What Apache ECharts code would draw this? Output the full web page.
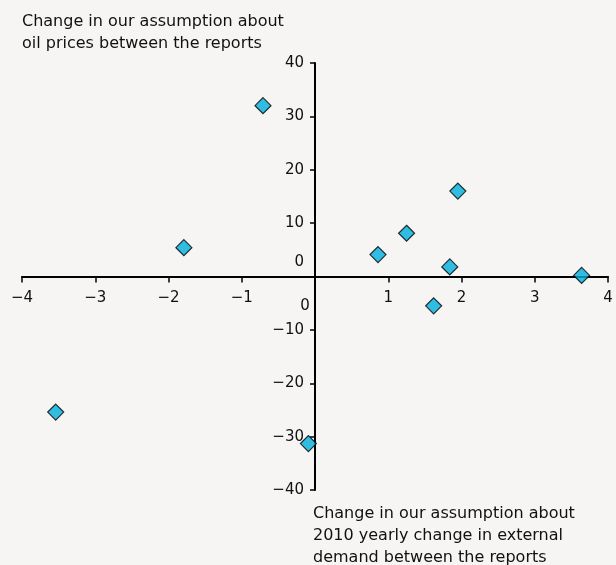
<!DOCTYPE html>
<html>
<head>
<meta charset="utf-8">
<script src="https://cdn.jsdelivr.net/npm/echarts@6/dist/echarts.min.js"></script>
<style>
  html, body { margin: 0; padding: 0; background: #f6f5f3; }
  #chart { width: 616px; height: 565px; }
</style>
</head>
<body>
<div id="chart"></div>
<script>
  // change in external demand assumption (x) vs oil price assumption (y)
  var demandChange = [-3.54, -1.79, -0.71, -0.09, 0.86, 1.25, 1.62, 1.84, 1.95, 3.64];
  var oilChange = [-25.4, 5.4, 32.0, -31.3, 4.1, 8.1, -5.5, 1.8, 16.0, 0.2];
  var xTitle = 'Change in our assumption about\n2010 yearly change in external\ndemand between the reports';
  var yTitle = 'Change in our assumption about\noil prices between the reports';

  var points = demandChange.map(function (x, i) { return [x, oilChange[i]]; });

  var font = 'DejaVu Sans';
  // axes cross at zero: move each axis from the grid edge to the other axis's zero
  var gridLeft = 22, gridRight = 8, gridTop = 63, gridBottom = 75;
  var plotW = 616 - gridLeft - gridRight;
  var plotH = 565 - gridTop - gridBottom;

  var myChart = echarts.init(document.getElementById('chart'));
  var option = {
    backgroundColor: '#f6f5f3',
    animation: false,
    title: [
      {
        text: yTitle, left: 17, top: 6,
        textStyle: { fontFamily: font, fontSize: 16, fontWeight: 'normal', lineHeight: 22, color: '#111' }
      },
      {
        text: xTitle, left: 308, top: 498,
        textStyle: { fontFamily: font, fontSize: 16, fontWeight: 'normal', lineHeight: 22, color: '#111' }
      }
    ],
    grid: { left: gridLeft, right: gridRight, top: gridTop, bottom: gridBottom, outerBoundsMode: 'none' },
    xAxis: {
      type: 'value',
      min: -4, max: 4, interval: 1,
      position: 'bottom',
      offset: -plotH / 2,
      splitLine: { show: false },
      axisLine: { onZero: false, lineStyle: { color: '#000', width: 2 } },
      axisTick: { length: 6, lineStyle: { color: '#000', width: 1.5 } },
      axisLabel: {
        margin: 14, fontFamily: font, fontSize: 15, color: '#111',
        showMinLabel: true, showMaxLabel: true,
        formatter: function (v) { return v === 0 ? '{z|0}' : String(v).replace('-', '\u2212'); },
        rich: { z: { fontFamily: font, fontSize: 15, color: '#111', padding: [8, 20, 0, 0] } }
      }
    },
    yAxis: {
      type: 'value',
      min: -40, max: 40, interval: 10,
      position: 'left',
      offset: -plotW / 2,
      splitLine: { show: false },
      axisLine: { onZero: false, lineStyle: { color: '#000', width: 2 } },
      axisTick: { length: 5, lineStyle: { color: '#000', width: 1.5 } },
      axisLabel: {
        margin: 11, fontFamily: font, fontSize: 15, color: '#111',
        showMinLabel: true, showMaxLabel: true,
        formatter: function (v) { return v === 0 ? '{z|0}' : String(v).replace('-', '\u2212'); },
        rich: { z: { fontFamily: font, fontSize: 15, color: '#111', padding: [0, 0, 28, 0] } }
      }
    },
    series: [
      {
        type: 'scatter',
        data: points,
        symbol: 'diamond',
        symbolSize: 16,
        itemStyle: { color: '#00afdc', borderColor: '#000', borderWidth: 1.2 }
      }
    ]
  };
  myChart.setOption(option);
</script>
</body>
</html>
